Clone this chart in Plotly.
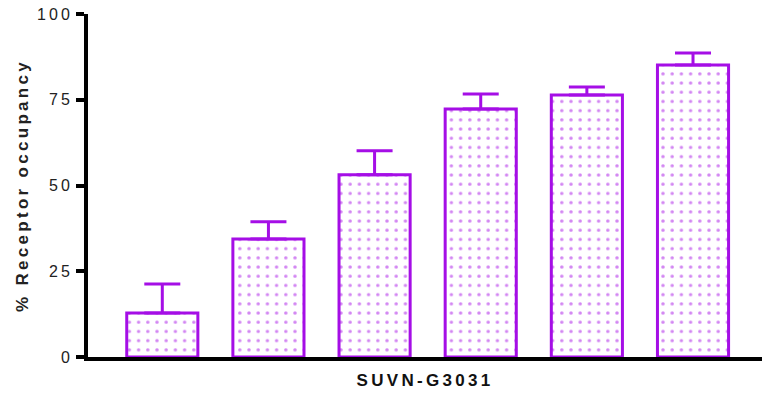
import plotly.graph_objects as go

categories = ["d1", "d2", "d3", "d4", "d5", "d6"]
occupancy = [12.8, 34.4, 53.1, 72.3, 76.4, 85.1]
error_up = [8.5, 5.0, 7.0, 4.4, 2.3, 3.5]
y_ticks = [0, 25, 50, 75, 100]

PURPLE = "#a50ee6"

fig = go.Figure()
fig.add_trace(go.Bar(
    x=list(range(len(categories))),
    y=occupancy,
    width=0.67,
    marker=dict(
        color="white",
        line=dict(color=PURPLE, width=3),
        pattern=dict(shape=".", fgcolor=PURPLE, bgcolor="white", size=9.2, solidity=0.11, fillmode="overlay"),
    ),
    error_y=dict(type="data", symmetric=False, array=error_up, arrayminus=[0]*len(error_up),
                 color=PURPLE, thickness=3, width=18),
    hoverinfo="skip",
))

fig.update_layout(
    width=765, height=394,
    margin=dict(l=88, r=3, t=14, b=37),
    paper_bgcolor="white", plot_bgcolor="white",
    font=dict(family="Liberation Sans, Arial", color="#222"),
    showlegend=False,
)
fig.update_xaxes(
    range=[-0.70, 5.65], automargin=False,
    showticklabels=False, ticks="", showgrid=False, zeroline=False,
    showline=True, linecolor="black", linewidth=4,
    title=dict(text="<b>SUVN-G3031</b>", font=dict(size=17, color="#111"), standoff=15),
)
fig.update_yaxes(
    range=[0, 100], tickvals=y_ticks, ticktext=[str(v) for v in y_ticks], automargin=False,
    ticks="outside", ticklen=8, tickwidth=4, tickcolor="black",
    tickfont=dict(size=16, color="#222"),
    showgrid=False, zeroline=False,
    showline=True, linecolor="black", linewidth=4,
    title=dict(text="<b>% Receptor occupancy</b>", font=dict(size=17, color="#222"), standoff=14),
)

post = """
document.body.style.margin='0';
document.querySelectorAll('.xtitle, .ytitle').forEach(function(e){e.style.letterSpacing='3.3px';});
document.querySelectorAll('.ytick text').forEach(function(e){e.style.letterSpacing='3px';});
"""
fig.write_html("out.html", post_script=post, config={"displayModeBar": False})
